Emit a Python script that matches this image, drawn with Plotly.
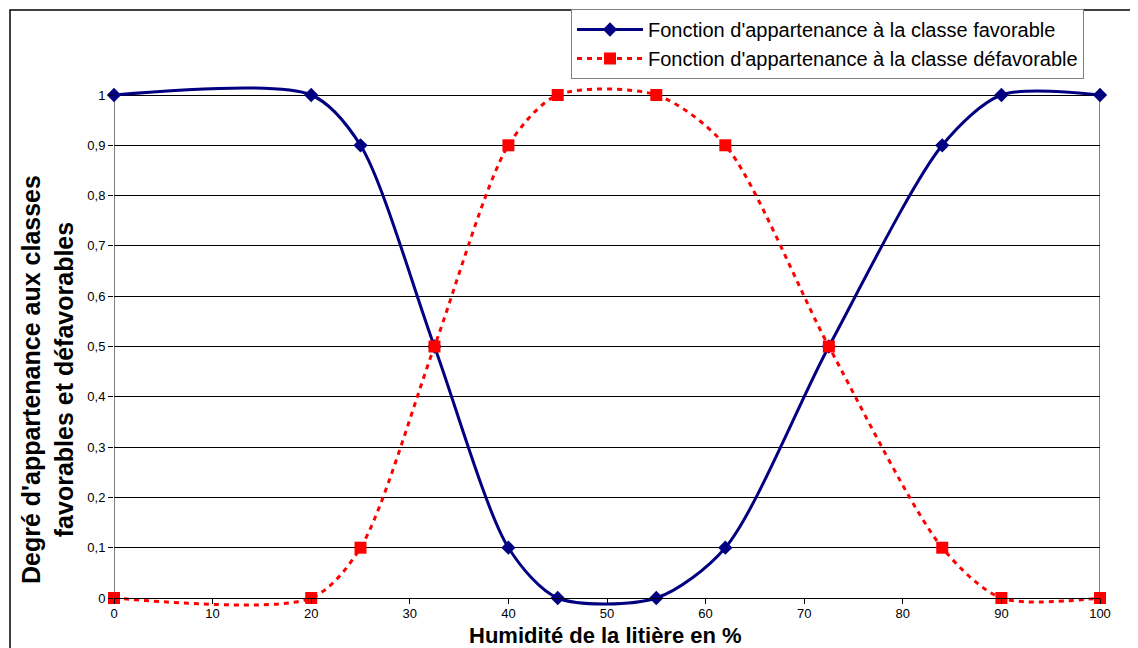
import plotly.graph_objects as go

humidite = [0, 20, 25, 32.5, 40, 45, 55, 62, 72.5, 84, 90, 100]
favorable = [1, 1, 0.9, 0.5, 0.1, 0, 0, 0.1, 0.5, 0.9, 1, 1]
defavorable = [0, 0, 0.1, 0.5, 0.9, 1, 1, 0.9, 0.5, 0.1, 0, 0]
x_ticks = list(range(0, 101, 10))
y_ticks = [i / 10 for i in range(0, 11)]

OFF = 8                   # page body margin offset
W, H = 1138 - OFF, 648 - OFF
X0, X1 = 114 - OFF, 1100 - OFF   # pixel columns of x=0 and x=100
Y1, Y0 = 95 - OFF, 598 - OFF     # pixel rows of y=1 and y=0
L, R = X0, W - X1
T, B = Y1 - 20, H - Y0 - 20      # plot area a bit larger so smoothed lines can overshoot
pw = W - L - R
ph = H - T - B
unit = Y0 - Y1

def px_x(p):
    return (p - OFF - L) / pw

def px_y(p):
    return (H - B - (p - OFF)) / ph

ext_lo = (H - B - Y0) / unit
ext_hi = (Y1 - T) / unit

font = "Liberation Sans, Arial, sans-serif"

fig = go.Figure()
fig.add_trace(go.Scatter(
    x=humidite, y=favorable, mode="lines+markers",
    name="Fonction d'appartenance à la classe favorable",
    line=dict(color="#000080", width=3, shape="spline", smoothing=0.8),
    marker=dict(symbol="diamond", size=11, color="#000080"),
    cliponaxis=False,
))
fig.add_trace(go.Scatter(
    x=humidite, y=defavorable, mode="lines+markers",
    name="Fonction d'appartenance à la classe défavorable",
    line=dict(color="#FF0000", width=3, dash="5px,5px", shape="spline", smoothing=0.8),
    marker=dict(symbol="square", size=12, color="#FF0000"),
    cliponaxis=False,
))

frame = dict(color="black", width=1)
fig.update_layout(
    width=W, height=H,
    margin=dict(l=L, r=R, t=T, b=B, autoexpand=False),
    paper_bgcolor="white", plot_bgcolor="white",
    separators=", ",
    font=dict(family=font, size=13, color="black"),
    showlegend=True,
    legend=dict(
        xref="container", yref="container",
        x=(571 - OFF) / W, y=1 - (9 - OFF) / H, xanchor="left", yanchor="top",
        bordercolor="#808080", borderwidth=1, bgcolor="white",
        font=dict(family=font, size=20, color="black"),
        tracegroupgap=0, itemwidth=66,
    ),
    xaxis=dict(
        range=[0, 100], tickvals=x_ticks, showgrid=False, zeroline=False,
        anchor="free", position=px_y(598),
        showline=True, linecolor="black", linewidth=1,
        ticks="outside", ticklen=5, tickcolor="black", ticklabelstandoff=-2,
        tickfont=dict(family=font, size=13, color="black"),
    ),
    yaxis=dict(
        range=[-ext_lo, 1 + ext_hi], tickvals=y_ticks,
        showgrid=True, gridcolor="black", gridwidth=1,
        zeroline=False, showline=False,
        ticks="outside", ticklen=5, tickcolor="black",
        tickfont=dict(family=font, size=13, color="black"),
    ),
    shapes=[
        dict(type="rect", xref="paper", yref="paper",
             x0=px_x(10), x1=px_x(1300), y0=px_y(800), y1=px_y(10),
             line=dict(color="black", width=1.5), fillcolor="rgba(0,0,0,0)", layer="below"),
        dict(type="line", xref="x", yref="y", x0=0, x1=0, y0=0, y1=1, line=frame, layer="below"),
        dict(type="line", xref="x", yref="y", x0=100, x1=100, y0=0, y1=1, line=frame, layer="below"),
    ],
    annotations=[
        dict(text="<b>Humidité de la litière en %</b>", xref="paper", yref="paper",
             x=px_x(605), y=px_y(635), xanchor="center", yanchor="middle",
             showarrow=False, borderpad=0,
             font=dict(family=font, size=22, color="black")),
        dict(text="<b>Degré d'appartenance aux classes<br>favorables et défavorables</b>",
             xref="paper", yref="paper", x=px_x(47), y=px_y(380),
             xanchor="center", yanchor="middle", textangle=-90,
             showarrow=False, font=dict(family=font, size=25, color="black")),
    ],
)

fig.write_html("out.html")
